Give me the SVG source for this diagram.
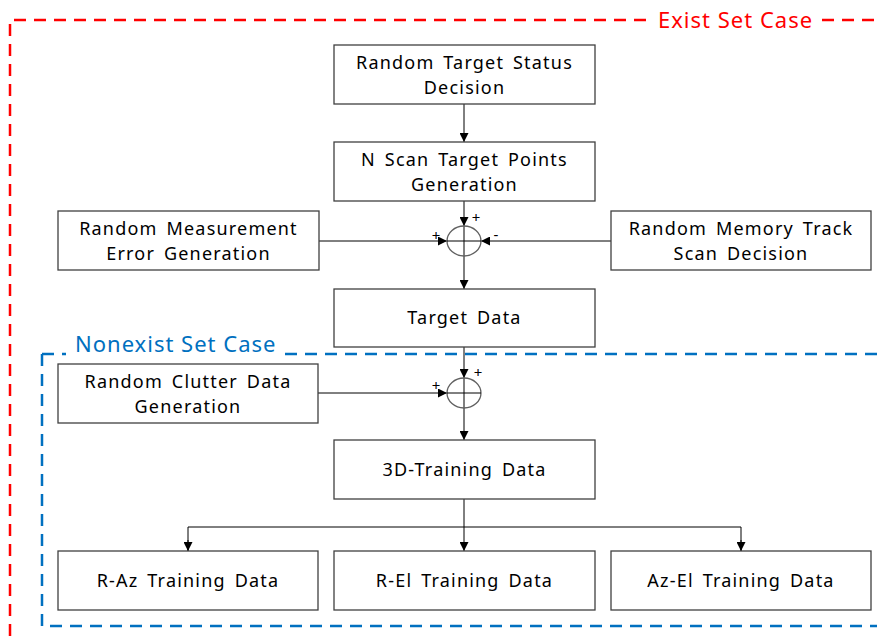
<svg xmlns="http://www.w3.org/2000/svg" width="877" height="636" viewBox="0 0 877 636">
<defs>
<style>
.box{fill:#fff;stroke:#404040;stroke-width:1.3}
.t{font-family:"Noto Sans","Noto Sans CJK KR",sans-serif;font-size:18px;letter-spacing:1.2px;word-spacing:3px;fill:#000;text-anchor:middle}
.s{font-family:"Noto Sans",sans-serif;font-size:15px;fill:#000;text-anchor:middle}
.ln{fill:none;stroke:#000;stroke-width:1}
.red{fill:none;stroke:#ff0000;stroke-width:2.5;stroke-dasharray:12,8}
.blue{fill:none;stroke:#0070c0;stroke-width:2.5;stroke-dasharray:12,8}
.sum{fill:none;stroke:#606060;stroke-width:1.3}
.title{font-family:"Noto Sans",sans-serif;font-size:22px;letter-spacing:1px}
</style>
<marker id="ah" viewBox="0 0 10 10" refX="10" refY="5" markerWidth="9" markerHeight="9" markerUnits="userSpaceOnUse" orient="auto">
<path d="M0,0 L10,5 L0,10 z" fill="#000"/>
</marker>
</defs>
<g id="regions">
<path class="red" d="M10,636 V20 H650"/>
<path class="red" d="M822,20 H877"/>
<text class="title" x="658" y="28" fill="#ff0000">Exist Set Case</text>
<path class="blue" d="M42,354 H66"/>
<path class="blue" d="M42,354 V626 H877"/>
<path class="blue" d="M285,354 H877"/>
<text class="title" x="75" y="352" fill="#0070c0">Nonexist Set Case</text>
</g>
<g id="connectors">
<path class="ln" d="M464,104 V142" marker-end="url(#ah)"/>
<path class="ln" d="M464,201 V226" marker-end="url(#ah)"/>
<path class="ln" d="M319,241 H447" marker-end="url(#ah)"/>
<path class="ln" d="M611,241 H481" marker-end="url(#ah)"/>
<path class="ln" d="M464,226 V289" marker-end="url(#ah)"/>
<path class="ln" d="M464,347 V378" marker-end="url(#ah)"/>
<path class="ln" d="M318,393 H447" marker-end="url(#ah)"/>
<path class="ln" d="M464,378 V440" marker-end="url(#ah)"/>
<path class="ln" d="M464,499 V551" marker-end="url(#ah)"/>
<path class="ln" d="M188,551 V527 H741 V551" />
<path class="ln" d="M188,540 V551" marker-end="url(#ah)"/>
<path class="ln" d="M741,540 V551" marker-end="url(#ah)"/>
</g>
<g id="sum1">
<ellipse class="sum" cx="464" cy="241" rx="17" ry="15"/>
<path class="ln" d="M447,241 H481"/>
<text class="s" x="476" y="223">+</text>
<text class="s" x="436" y="241">+</text>
<text class="s" x="496" y="240">-</text>
</g>
<g id="sum2">
<ellipse class="sum" cx="464" cy="393" rx="17" ry="15"/>
<path class="ln" d="M447,393 H481"/>
<text class="s" x="478" y="378">+</text>
<text class="s" x="436" y="391">+</text>
</g>
<g id="n1"><rect class="box" x="334" y="45" width="261" height="59"/><text class="t" x="464.5" y="69">Random Target Status</text><text class="t" x="464.5" y="94">Decision</text></g>
<g id="n2"><rect class="box" x="334" y="142" width="261" height="59"/><text class="t" x="464.5" y="166">N Scan Target Points</text><text class="t" x="464.5" y="191">Generation</text></g>
<g id="n3"><rect class="box" x="58" y="211" width="261" height="59"/><text class="t" x="188.5" y="235">Random Measurement</text><text class="t" x="188.5" y="260">Error Generation</text></g>
<g id="n4"><rect class="box" x="611" y="211" width="260" height="59"/><text class="t" x="741" y="235">Random Memory Track</text><text class="t" x="741" y="260">Scan Decision</text></g>
<g id="n5"><rect class="box" x="334" y="289" width="261" height="58"/><text class="t" x="464.5" y="324">Target Data</text></g>
<g id="n6"><rect class="box" x="58" y="364" width="260" height="59"/><text class="t" x="188" y="388">Random Clutter Data</text><text class="t" x="188" y="413">Generation</text></g>
<g id="n7"><rect class="box" x="334" y="440" width="261" height="59"/><text class="t" x="464.5" y="476">3D-Training Data</text></g>
<g id="n8"><rect class="box" x="58" y="551" width="260" height="59"/><text class="t" x="188" y="587">R-Az Training Data</text></g>
<g id="n9"><rect class="box" x="334" y="551" width="261" height="59"/><text class="t" x="464.5" y="587">R-El Training Data</text></g>
<g id="n10"><rect class="box" x="611" y="551" width="260" height="59"/><text class="t" x="741" y="587">Az-El Training Data</text></g>
</svg>
